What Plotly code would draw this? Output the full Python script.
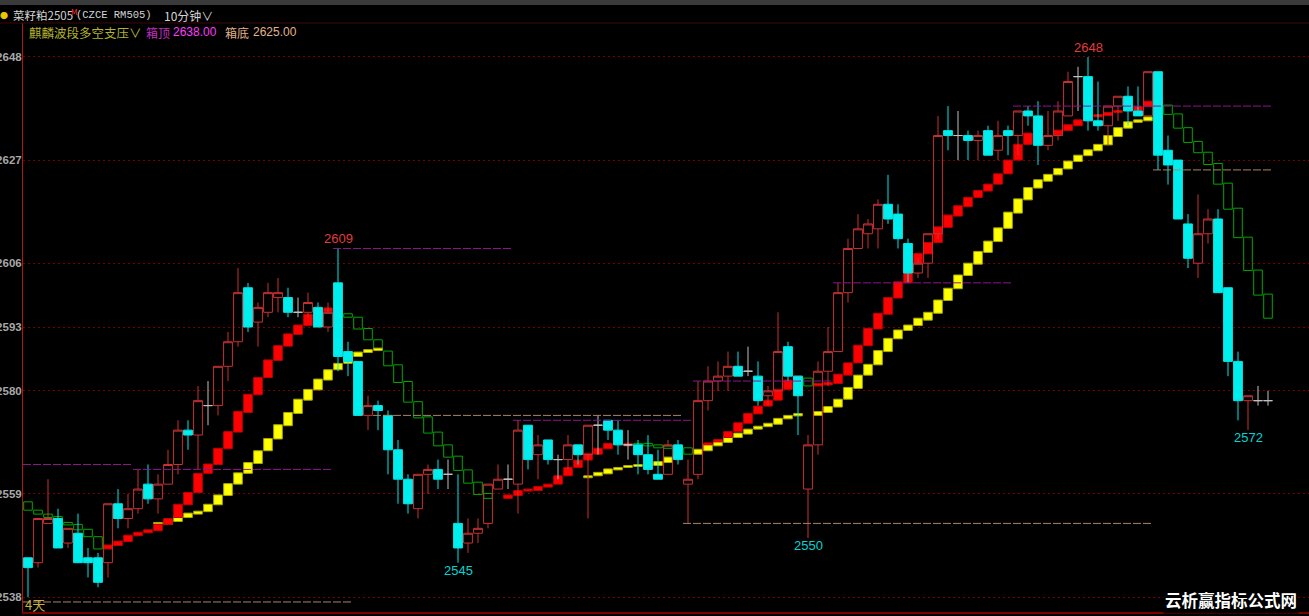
import plotly.graph_objects as go

W, H = 1309, 616
ML, MR, MT, MB = 23, 0, 23, 4

# ---------------- data ----------------
opens = [2546, 2545, 2553, 2554, 2549, 2551, 2546, 2546, 2545, 2557,
         2554, 2556, 2561, 2558, 2561, 2565, 2572, 2571, 2577, 2577,
         2585, 2590, 2601, 2594, 2596, 2599, 2599, 2596, 2596, 2597,
         2593, 2602, 2588, 2586, 2575, 2577, 2575, 2568, 2562, 2556,
         2563, 2564, 2563, 2553, 2549, 2551, 2553, 2560, 2562, 2561,
         2573, 2567, 2570, 2566, 2566, 2569, 2567, 2573, 2574, 2572,
         2569, 2569, 2567, 2563, 2563, 2569, 2561, 2563, 2578, 2582,
         2583, 2585, 2584, 2583, 2579, 2580, 2589, 2583, 2560, 2569,
         2584, 2588, 2600, 2609, 2612, 2613, 2618, 2616, 2610, 2604,
         2606, 2612, 2633, 2632, 2632, 2631, 2633, 2629, 2633, 2632,
         2637, 2636, 2630, 2632, 2636, 2644, 2644, 2635, 2634, 2638,
         2640, 2637, 2636, 2645, 2629, 2627, 2614, 2606, 2612, 2615,
         2601, 2586, 2578, 2578, 2578]
highs = [2546, 2554, 2562, 2556, 2552, 2555, 2548, 2547, 2557, 2560,
         2559, 2564, 2565, 2563, 2568, 2574, 2574, 2581, 2582, 2585,
         2592, 2605, 2602, 2598, 2602, 2603, 2601, 2599, 2600, 2598,
         2598, 2609, 2590, 2586, 2579, 2578, 2576, 2570, 2563, 2563,
         2565, 2566, 2566, 2563, 2554, 2554, 2561, 2565, 2565, 2574,
         2573, 2571, 2570, 2567, 2571, 2569, 2573, 2575, 2574, 2574,
         2572, 2570, 2571, 2568, 2570, 2570, 2566, 2582, 2585, 2586,
         2588, 2588, 2589, 2586, 2581, 2596, 2590, 2583, 2571, 2586,
         2593, 2602, 2611, 2616, 2615, 2619, 2624, 2618, 2611, 2607,
         2612, 2636, 2638, 2637, 2633, 2633, 2634, 2635, 2634, 2637,
         2638, 2639, 2637, 2639, 2645, 2646, 2648, 2643, 2638, 2640,
         2642, 2642, 2645, 2645, 2632, 2627, 2616, 2620, 2617, 2617,
         2601, 2588, 2579, 2581, 2580]
lows = [2538, 2544, 2553, 2548, 2548, 2545, 2542, 2540, 2542, 2552,
        2552, 2555, 2557, 2555, 2561, 2563, 2568, 2564, 2573, 2575,
        2582, 2589, 2592, 2589, 2595, 2596, 2595, 2595, 2595, 2593,
        2592, 2584, 2583, 2575, 2572, 2572, 2563, 2557, 2555, 2554,
        2559, 2560, 2560, 2545, 2547, 2549, 2552, 2560, 2560, 2555,
        2564, 2562, 2565, 2562, 2564, 2565, 2554, 2567, 2570, 2567,
        2566, 2563, 2563, 2562, 2563, 2565, 2553, 2562, 2576, 2580,
        2580, 2583, 2583, 2577, 2577, 2580, 2582, 2571, 2550, 2567,
        2581, 2588, 2598, 2609, 2609, 2609, 2614, 2609, 2602, 2603,
        2603, 2611, 2629, 2627, 2627, 2627, 2628, 2627, 2628, 2628,
        2634, 2626, 2629, 2631, 2636, 2637, 2633, 2633, 2630, 2635,
        2634, 2636, 2636, 2625, 2622, 2615, 2605, 2603, 2610, 2600,
        2583, 2574, 2572, 2577, 2577]
closes = [2544, 2554, 2554, 2548, 2552, 2545, 2545, 2541, 2557, 2554,
          2556, 2560, 2558, 2561, 2565, 2572, 2571, 2578, 2577, 2585,
          2590, 2600, 2593, 2597, 2600, 2600, 2596, 2596, 2598, 2593,
          2596, 2587, 2586, 2575, 2577, 2576, 2568, 2562, 2557, 2563,
          2564, 2562, 2563, 2548, 2551, 2552, 2561, 2562, 2562, 2572,
          2566, 2569, 2566, 2566, 2569, 2567, 2573, 2573, 2572, 2569,
          2569, 2567, 2564, 2562, 2569, 2566, 2562, 2578, 2582, 2583,
          2585, 2583, 2584, 2578, 2580, 2588, 2583, 2579, 2569, 2584,
          2588, 2600, 2609, 2613, 2614, 2618, 2615, 2611, 2604, 2606,
          2612, 2632, 2632, 2632, 2631, 2632, 2628, 2632, 2632, 2637,
          2636, 2630, 2632, 2637, 2643, 2644, 2635, 2634, 2638, 2640,
          2637, 2636, 2645, 2628, 2626, 2615, 2607, 2612, 2615, 2600,
          2586, 2578, 2579, 2578, 2578]

# fast band (red, rising)
red_idx = (list(range(8, 32)) + list(range(48, 61)) + list(range(68, 78))
           + list(range(79, 102)) + list(range(103, 113)))
red_hi = [2548.6, 2549.4, 2550.6, 2551.2, 2551.7, 2552.8, 2554.0, 2556.9, 2559.3, 2563.2,
          2565.1, 2568.3, 2571.7, 2575.8, 2579.3, 2582.7, 2586.3, 2589.2, 2591.6, 2593.4,
          2595.6, 2596.3, 2596.9, 2597.4,
          2558.8, 2559.7, 2560.0, 2560.5, 2561.0, 2562.7, 2564.4, 2565.9, 2567.2, 2568.3,
          2569.3, 2569.5, 2569.3,
          2569.4, 2570.1, 2571.7, 2573.5, 2575.4, 2576.9, 2578.1, 2580.3, 2582.2, 2583.0,
          2581.5, 2581.7, 2583.4, 2585.7, 2589.3, 2592.7, 2595.8, 2599.0, 2602.2, 2606.0,
          2608.0, 2610.2, 2613.4, 2615.8, 2617.7, 2619.4, 2620.8, 2622.1, 2624.2, 2627.0,
          2630.2, 2632.5, 2633.0,
          2633.1, 2634.2, 2635.2, 2635.8, 2636.3, 2636.7, 2637.1, 2637.4, 2637.9, 2639.0]
red_lo = [2547.8, 2548.5, 2549.3, 2550.5, 2551.1, 2551.5, 2552.8, 2554.2, 2556.8, 2559.3,
          2563.2, 2565.0, 2568.2, 2571.6, 2575.6, 2579.2, 2582.7, 2586.2, 2589.1, 2591.5,
          2593.3, 2595.6, 2596.1, 2596.9,
          2558.1, 2558.7, 2559.6, 2559.7, 2560.4, 2561.0, 2562.7, 2564.4, 2565.9, 2567.1,
          2568.2, 2569.2, 2568.8,
          2569.0, 2569.6, 2570.5, 2571.7, 2573.4, 2575.3, 2576.9, 2578.1, 2580.3, 2582.2,
          2581.0, 2581.2, 2581.5, 2583.2, 2585.7, 2589.2, 2592.6, 2595.6, 2598.9, 2602.0,
          2606.0, 2607.9, 2610.2, 2613.3, 2615.6, 2617.5, 2619.4, 2620.7, 2622.1, 2624.2,
          2627.0, 2630.2, 2632.4,
          2632.1, 2633.0, 2634.0, 2635.2, 2635.8, 2636.1, 2636.7, 2637.1, 2637.1, 2637.9]

# slow band (yellow)
yel_idx = (list(range(13, 36)) + list(range(56, 66)) + list(range(67, 78))
           + list(range(79, 113)))
yel_hi = [2553.2, 2553.6, 2554.5, 2555.1, 2555.5, 2556.9, 2558.8, 2561.1, 2563.3, 2565.4,
          2567.8, 2570.3, 2573.1, 2575.6, 2578.3, 2580.3, 2582.4, 2584.3, 2585.6, 2587.0,
          2587.9, 2588.4, 2588.7,
          2562.7, 2563.4, 2564.1, 2564.4, 2564.8, 2565.0, 2565.3, 2565.6, 2566.5, 2567.0,
          2568.1, 2569.1, 2569.7, 2570.7, 2571.4, 2572.2, 2572.8, 2573.4, 2574.4, 2575.0,
          2575.4,
          2575.8, 2576.8, 2578.3, 2580.7, 2583.2, 2585.4, 2588.2, 2590.7, 2592.4, 2593.4,
          2594.8, 2596.0, 2598.5, 2600.9, 2603.6, 2606.0, 2608.4, 2610.5, 2613.2, 2616.4,
          2619.1, 2621.4, 2623.0, 2624.1, 2625.3, 2626.8, 2628.0, 2629.1, 2630.2, 2632.0,
          2633.6, 2634.8, 2635.2, 2635.8]
yel_lo = [2552.9, 2552.8, 2553.4, 2554.2, 2554.9, 2555.4, 2556.8, 2558.7, 2561.0, 2563.2,
          2565.2, 2567.8, 2570.2, 2572.9, 2575.4, 2578.1, 2580.2, 2582.2, 2584.3, 2585.6,
          2587.0, 2587.8, 2588.2,
          2562.3, 2562.7, 2563.1, 2563.9, 2564.4, 2564.6, 2564.9, 2564.8, 2565.4, 2566.4,
          2567.1, 2567.8, 2568.8, 2569.5, 2570.5, 2571.2, 2572.2, 2572.7, 2573.2, 2574.3,
          2574.9,
          2575.0, 2575.6, 2576.7, 2578.3, 2580.5, 2583.2, 2585.3, 2588.0, 2590.6, 2592.3,
          2593.3, 2594.4, 2595.8, 2598.4, 2600.8, 2603.5, 2605.8, 2608.2, 2610.4, 2613.1,
          2616.2, 2618.9, 2621.3, 2622.7, 2624.0, 2625.2, 2626.7, 2627.9, 2628.9, 2630.1,
          2631.8, 2633.5, 2634.7, 2635.0]

# falling band (green, hollow)
grn_idx = (list(range(0, 8)) + list(range(32, 47)) + list(range(61, 67)) + [78]
           + list(range(113, 125)))
grn_hi = [2557.4, 2555.7, 2554.9, 2554.4, 2553.2, 2552.8, 2551.8, 2550.3,
          2595.7, 2595.0, 2592.7, 2590.4, 2588.1, 2585.3, 2581.9, 2577.8, 2574.7, 2571.6,
          2569.0, 2566.7, 2563.9, 2561.4, 2559.1,
          2569.3, 2569.3, 2569.0, 2568.8, 2568.6, 2568.4,
          2582.6,
          2639.0, 2638.2, 2636.4, 2633.6, 2630.8, 2628.6, 2626.3, 2622.3, 2617.2, 2611.3,
          2604.6, 2599.7]
grn_lo = [2555.7, 2554.9, 2554.2, 2553.9, 2552.7, 2551.7, 2550.3, 2547.8,
          2595.0, 2592.6, 2590.4, 2588.3, 2585.1, 2581.7, 2577.7, 2574.5, 2571.4, 2568.8,
          2566.5, 2563.8, 2561.2, 2558.9, 2558.1,
          2568.8, 2568.8, 2568.4, 2568.3, 2568.0, 2567.1,
          2581.0,
          2638.2, 2636.3, 2633.5, 2630.6, 2628.5, 2626.1, 2622.1, 2617.0, 2611.2, 2604.5,
          2599.5, 2594.8]

# box top / bottom levels (bar ranges)
top_level = [2565, 2564, 2609, 2574, 2582, 2602, 2638]
top_first = [0, 11, 31, 49, 67, 81, 99]
top_last = [10, 30, 48, 66, 80, 98, 124]
bot_level = [2537, 2575, 2553, 2625]
bot_first = [0, 35, 66, 113]
bot_last = [32, 65, 112, 124]

yticks = [2538, 2559, 2580, 2593, 2606, 2627, 2648]

# labelled extremes
hi_marks = [(31, 2609), (106, 2648)]
lo_marks = [(43, 2545), (78, 2550), (122, 2572)]

# ---------------- figure ----------------
fig = go.Figure()

for lv, a, b in zip(top_level, top_first, top_last):
    fig.add_trace(go.Scatter(x=[a - 0.5, b + 0.5], y=[lv, lv], mode='lines',
                             line=dict(color='#8c168c', width=1, dash='8px,2px'),
                             hoverinfo='skip', showlegend=False))
for lv, a, b in zip(bot_level, bot_first, bot_last):
    fig.add_trace(go.Scatter(x=[a - 0.5, b + 0.5], y=[lv, lv], mode='lines',
                             line=dict(color='#a88466', width=1, dash='8px,2px'),
                             hoverinfo='skip', showlegend=False))


def ladder(idx, hi, lo, fill, edge):
    fig.add_trace(go.Bar(x=idx, y=[h - l for h, l in zip(hi, lo)], base=lo, width=0.86,
                         marker=dict(color=fill, line=dict(color=edge, width=1)),
                         hoverinfo='skip', showlegend=False))


ladder(grn_idx, grn_hi, grn_lo, 'rgba(0,0,0,0)', '#00a800')
ladder(yel_idx, yel_hi, yel_lo, '#ffff00', '#a8a800')
ladder(red_idx, red_hi, red_lo, '#ff0000', '#c00000')

N = len(opens)
up = [i for i in range(N) if closes[i] > opens[i]]
dn = [i for i in range(N) if closes[i] < opens[i]]
dj = [i for i in range(N) if closes[i] == opens[i]]


def candles(sel, lc, fc):
    fig.add_trace(go.Candlestick(
        x=sel, open=[opens[i] for i in sel], high=[highs[i] for i in sel],
        low=[lows[i] for i in sel], close=[closes[i] for i in sel],
        increasing=dict(line=dict(color=lc, width=1), fillcolor=fc),
        decreasing=dict(line=dict(color=lc, width=1), fillcolor=fc),
        whiskerwidth=0, hoverinfo='skip', showlegend=False))


candles(up, '#c83232', 'rgba(0,0,0,0)')
candles(dn, '#00e8e8', '#00eeee')
candles(dj, '#c0c0c0', 'rgba(0,0,0,0)')


def xp(px):
    return (px - ML) / (W - ML - MR)


def yp(py):
    return (H - MB - py) / (H - MT - MB)


ann = []
for i, v in hi_marks:
    ann.append(dict(x=i, y=highs[i], xref='x', yref='y', text=str(v), showarrow=False,
                    yanchor='bottom', yshift=0,
                    font=dict(family='Liberation Sans', size=13, color='#e03c3c')))
for i, v in lo_marks:
    ann.append(dict(x=i, y=lows[i], xref='x', yref='y', text=str(v), showarrow=False,
                    yanchor='top', yshift=2,
                    font=dict(family='Liberation Sans', size=13, color='#00d4d4')))

CJK = 'Noto Sans CJK SC'


def txt(px, py, s, color, size=12, family=CJK, anchor='left', weight='normal', bg=None):
    d = dict(x=xp(px), y=yp(py), xref='paper', yref='paper', text=s, showarrow=False,
             xanchor=anchor, yanchor='middle',
             font=dict(family=family, size=size, color=color, weight=weight))
    if bg:
        d['bgcolor'] = bg
    ann.append(d)


txt(4, 15, '●', '#e8c800', size=8, anchor='center')
txt(11, 15, '菜籽粕2505', '#d4d4d4', size=11.5)
txt(69, 11, 'M', '#ff3030', size=8)
txt(74, 15, '(CZCE RM505)', '#d4d4d4', size=10.5, family='Liberation Mono, ' + CJK)
txt(162, 15, '10分钟∨', '#d4d4d4', size=12)
txt(27, 32, '麒麟波段多空支压∨', '#b4b42c', size=12.5)
txt(144, 32, '箱顶', '#c030c0', size=12)
txt(171, 32, '2638.00', '#ff3cff', size=12, family='Liberation Sans')
txt(223, 32, '箱底', '#e0b48c', size=12)
txt(251, 32, '2625.00', '#e0b48c', size=12, family='Liberation Sans')
txt(23, 604, '4天', '#c8b43c', size=13)
txt(1299, 600, '云析赢指标公式网', '#ffffff', size=16.5, weight='bold', bg='#000000',
    anchor='right')

shapes = [
    dict(type='rect', xref='paper', yref='paper', x0=xp(0), x1=1, y0=yp(5), y1=yp(0),
         fillcolor='#3a3a3a', line=dict(width=0), layer='below'),
    dict(type='line', xref='paper', yref='paper', x0=xp(0), x1=1, y0=1, y1=1,
         line=dict(color='#3c0a0a', width=1)),
]

fig.update_layout(
    width=W, height=H, autosize=False,
    margin=dict(l=ML, r=MR, t=MT, b=MB, pad=0),
    paper_bgcolor='#000000', plot_bgcolor='#000000',
    barmode='overlay', boxgap=0.12, boxgroupgap=0, showlegend=False,
    annotations=ann, shapes=shapes,
    xaxis=dict(range=[-0.5, 128.1], showgrid=False, zeroline=False, showticklabels=False,
               ticks='', showline=True, linecolor='#7a0000', linewidth=2,
               rangeslider=dict(visible=False), fixedrange=True),
    yaxis=dict(range=[2534.96, 2654.92], tickvals=yticks, ticktext=[str(v) for v in yticks],
               showgrid=True, gridcolor='#7a0000', griddash='2px,3px', gridwidth=1,
               zeroline=False, showline=True, linecolor='#b01818', linewidth=1, ticks='',
               ticklabelstandoff=-2,
               tickfont=dict(family='Liberation Sans', size=11.5, color='#a8a8a8', weight='bold'),
               automargin=False, fixedrange=True),
)

fig.write_html('out.html', config={'displayModeBar': False},
               post_script="document.body.style.margin='0';document.body.style.background='#000';")
